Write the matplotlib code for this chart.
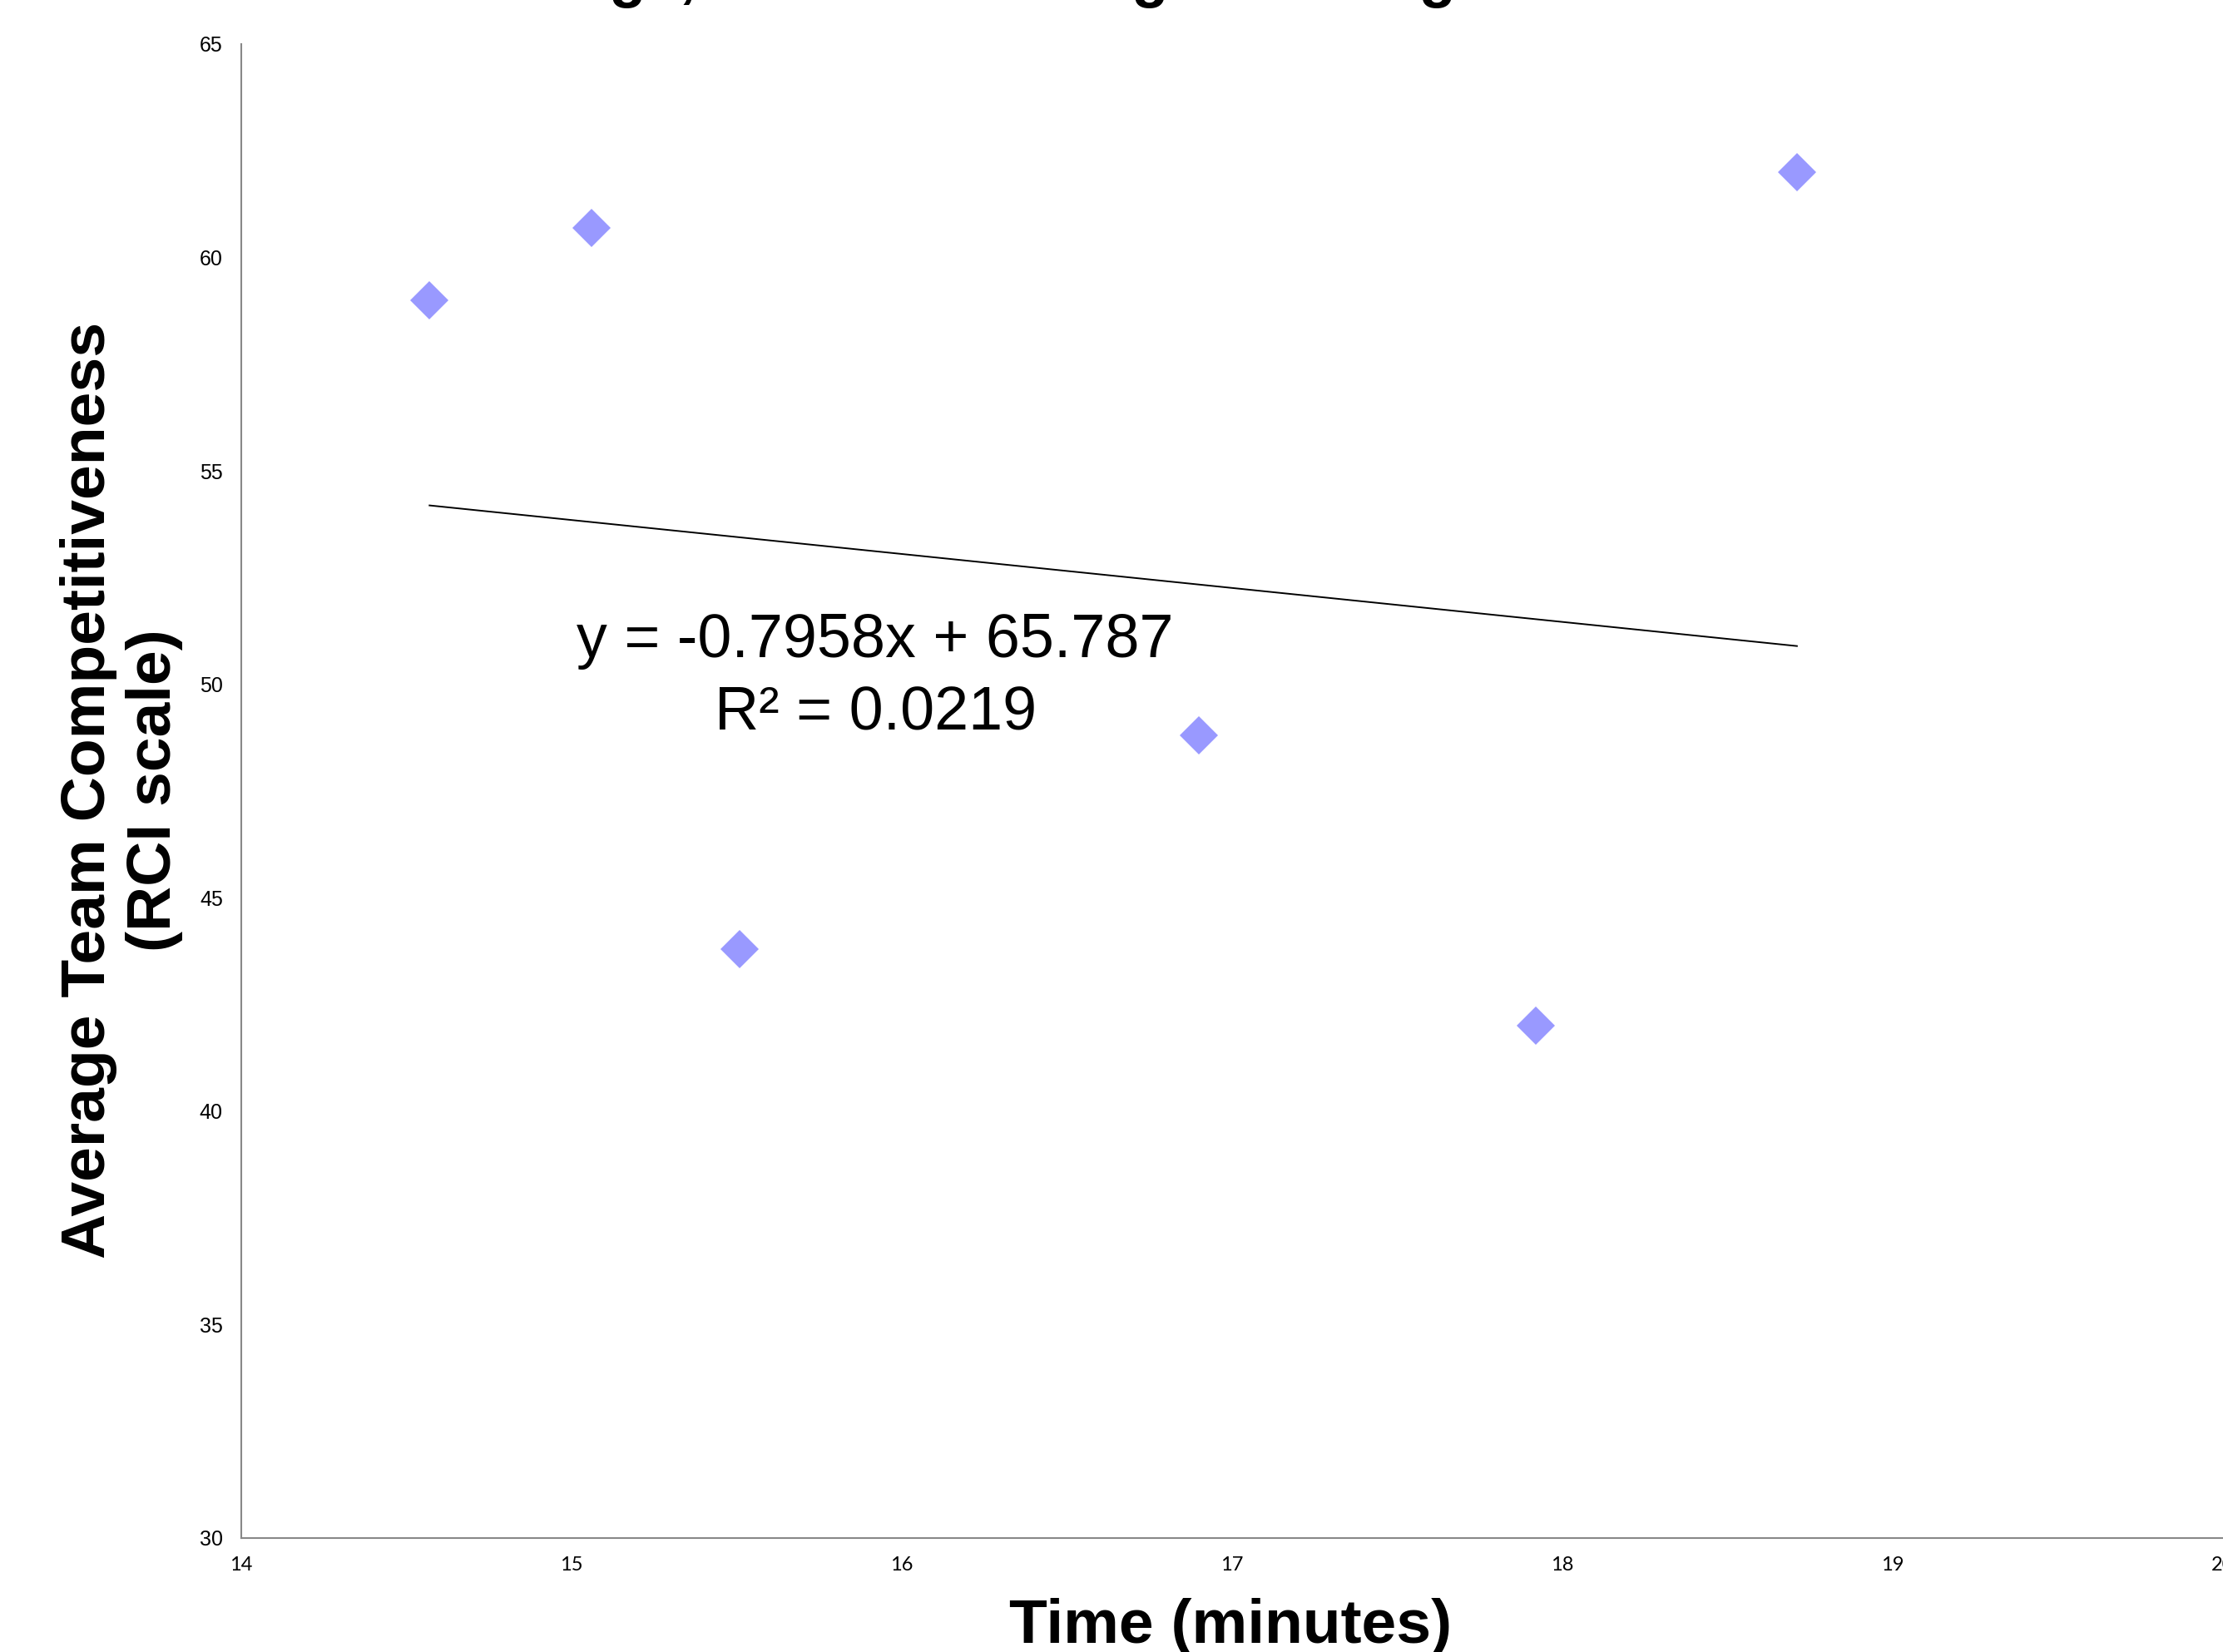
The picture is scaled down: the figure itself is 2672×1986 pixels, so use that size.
import numpy as np
import matplotlib
matplotlib.use("Agg")
import matplotlib.pyplot as plt

# values
time_min = [14.57, 15.06, 15.51, 16.90, 17.92, 18.71]
competitiveness = [59.0, 60.7, 43.8, 48.8, 42.0, 62.0]
slope, intercept, r2 = -0.7958, 65.787, 0.0219
x_ticks = [14, 15, 16, 17, 18, 19, 20]
y_ticks = [30, 35, 40, 45, 50, 55, 60, 65]

plt.rcParams["font.family"] = ["Liberation Sans", "DejaVu Sans"]

W, H = 2672, 1986
fig = plt.figure(figsize=(W / 100, H / 100), dpi=100)
ax = fig.add_axes([290 / W, 1 - 1849 / H, (W - 290) / W, (1849 - 53) / H])

ax.plot(time_min, competitiveness, "D", ms=23, mew=0, color="#9999ff", zorder=3)

tx = np.array([min(time_min), max(time_min)])
ax.plot(tx, slope * tx + intercept, color="black", lw=1.4, zorder=2)

ax.text(15.92, 50.64, f"y = {slope}x + {intercept}", fontsize=53,
        ha="center", va="baseline")
ax.text(15.92, 48.94, f"R\u00b2 = {r2}", fontsize=53, ha="center", va="baseline")

ax.set_xlim(14, 20)
ax.set_ylim(30, 65)
ax.set_xticks(x_ticks)
ax.set_yticks(y_ticks)
ax.set_xticklabels([str(v) for v in x_ticks], family=["Lato", "DejaVu Sans"], fontsize=17)
ax.set_yticklabels([str(v) for v in y_ticks], fontsize=18)
ax.tick_params(length=0, pad=16)
for s in ("top", "right"):
    ax.spines[s].set_visible(False)
for s in ("left", "bottom"):
    ax.spines[s].set_color("#888888")
    ax.spines[s].set_linewidth(1.5)

fig.text(1479 / W, 0.0055, "Time (minutes)", fontsize=54, fontweight="bold",
         ha="center", va="baseline")
fig.text(146 / W, 1 - 950 / H, "Average Team Competitiveness\n(RCI scale)",
         fontsize=54, fontweight="bold", rotation=90, ha="center", va="center",
         multialignment="center")
# title sits above the canvas, only the descenders show
fig.text(264 / W, 1.0025, "Team Standings, Time vs. Average Ranking", fontsize=52,
         fontweight="bold", ha="left", va="baseline")

fig.savefig("out.png", dpi=100)
